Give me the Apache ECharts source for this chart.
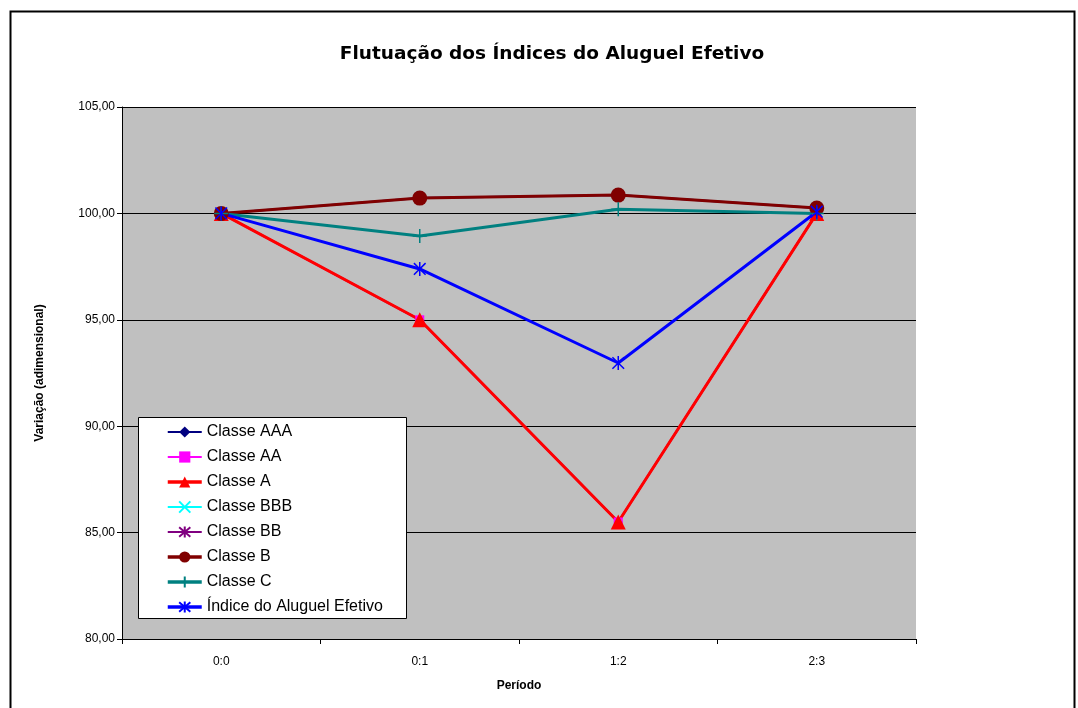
<!DOCTYPE html>
<html>
<head>
<meta charset="utf-8">
<script src="https://cdn.jsdelivr.net/npm/echarts@6/dist/echarts.min.js"></script>
<style>
  html, body { margin: 0; padding: 0; background: #fff; }
  #chart { width: 1078px; height: 708px; }
</style>
</head>
<body>
<div id="chart"></div>
<script>
// categories and values
const periods = ['0:0', '0:1', '1:2', '2:3']
const classeAAA = [100, 95.0, 85.5, 100]
const classeAA = [100, 95.0, 85.5, 100]
const classeA = [100, 95.0, 85.5, 100]
const classeBBB = [100, 100.72, 100.86, 100.25]
const classeBB = [100, 100.72, 100.86, 100.25]
const classeB = [100, 100.72, 100.86, 100.25]
const classeC = [100, 98.94, 100.2, 100.0]
const indiceAluguel = [100, 97.39, 92.97, 100.08]

const yTicks = { min: 80, max: 105, interval: 5 }

const xSym = 'path://M0,0L10,10M10,0L0,10'
const starSym = 'path://M0,0L10,10M10,0L0,10M5,-1L5,11'
const plusSym = 'path://M5,0L5,10M0,5L10,5'

function mk(name, data, color, width, symbol, size, stroked) {
  return {
    name: name,
    type: 'line',
    data: data,
    symbol: symbol,
    symbolSize: size,
    symbolKeepAspect: true,
    showSymbol: true,
    lineStyle: { color: color, width: width },
    itemStyle: stroked
      ? { color: 'transparent', borderColor: color, borderWidth: 1.5 }
      : { color: color, borderColor: color, borderWidth: 0 },
    emphasis: { disabled: true },
    animation: false
  }
}

function leg(name, width) {
  return { name: name, lineStyle: { width: width } }
}

const chart = echarts.init(document.getElementById('chart'))
chart.setOption({
  animation: false,
  textStyle: { fontFamily: 'Liberation Sans, Arial, sans-serif', color: '#000' },
  title: {
    text: 'Flutuação dos Índices do Aluguel Efetivo',
    left: 547,
    textAlign: 'center',
    top: 40,
    textStyle: { fontSize: 18.5, fontWeight: 'bold', color: '#000', fontFamily: 'DejaVu Sans' }
  },
  graphic: [
    {
      type: 'rect',
      shape: { x: 10.5, y: 11.5, width: 1064, height: 710 },
      style: { fill: 'none', stroke: '#000', lineWidth: 2 },
      silent: true
    },
    {
      type: 'rect',
      shape: { x: 138.5, y: 417.5, width: 268, height: 201 },
      style: { fill: '#fff', stroke: '#000', lineWidth: 1 },
      z: 50,
      silent: true
    }
  ],
  legend: {
    orient: 'vertical',
    left: 166,
    top: 424,
    padding: 0,
    itemWidth: 34,
    itemHeight: 14,
    itemGap: 9,
    z: 60,
    textStyle: { fontSize: 16, color: '#000' },
    data: [
      leg('Classe AAA', 2), leg('Classe AA', 2), leg('Classe A', 3.5), leg('Classe BBB', 2),
      leg('Classe BB', 2), leg('Classe B', 3.5), leg('Classe C', 3.5), leg('Índice do Aluguel Efetivo', 3.5)
    ]
  },
  grid: {
    left: 122,
    top: 107,
    width: 794,
    height: 532,
    show: true,
    backgroundColor: '#C0C0C0',
    borderWidth: 0
  },
  xAxis: {
    type: 'category',
    data: periods,
    boundaryGap: true,
    name: 'Período',
    nameLocation: 'middle',
    nameGap: 41,
    nameTextStyle: { fontSize: 12, fontWeight: 'bold', color: '#000' },
    axisLine: { lineStyle: { color: '#000', width: 1 } },
    axisTick: { show: true, length: 5, lineStyle: { color: '#000' } },
    axisLabel: { fontSize: 12, color: '#000', margin: 17 },
    splitLine: { show: false }
  },
  yAxis: {
    type: 'value',
    min: yTicks.min,
    max: yTicks.max,
    interval: yTicks.interval,
    name: 'Variação (adimensional)',
    nameLocation: 'middle',
    nameGap: 76,
    nameTextStyle: { fontSize: 12, fontWeight: 'bold', color: '#000' },
    axisLine: { show: true, lineStyle: { color: '#000', width: 1 } },
    axisTick: { show: true, length: 5, lineStyle: { color: '#000' } },
    axisLabel: {
      fontSize: 12,
      color: '#000',
      margin: 7,
      formatter: function (v) { return v.toFixed(2).replace('.', ',') }
    },
    splitLine: { show: true, lineStyle: { color: '#000', width: 1 } }
  },
  series: [
    mk('Classe AAA', classeAAA, '#000080', 2, 'diamond', 9, false),
    mk('Classe AA', classeAA, '#FF00FF', 2, 'rect', 9, false),
    mk('Classe A', classeA, '#FF0000', 3, 'triangle', 15, false),
    mk('Classe BBB', classeBBB, '#00FFFF', 2, xSym, 10, true),
    mk('Classe BB', classeBB, '#800080', 2, starSym, 10, true),
    mk('Classe B', classeB, '#800000', 3, 'circle', 15, false),
    mk('Classe C', classeC, '#008080', 3, plusSym, 14, true),
    mk('Índice do Aluguel Efetivo', indiceAluguel, '#0000FF', 3, starSym, 14, true)
  ]
})
</script>
</body>
</html>
